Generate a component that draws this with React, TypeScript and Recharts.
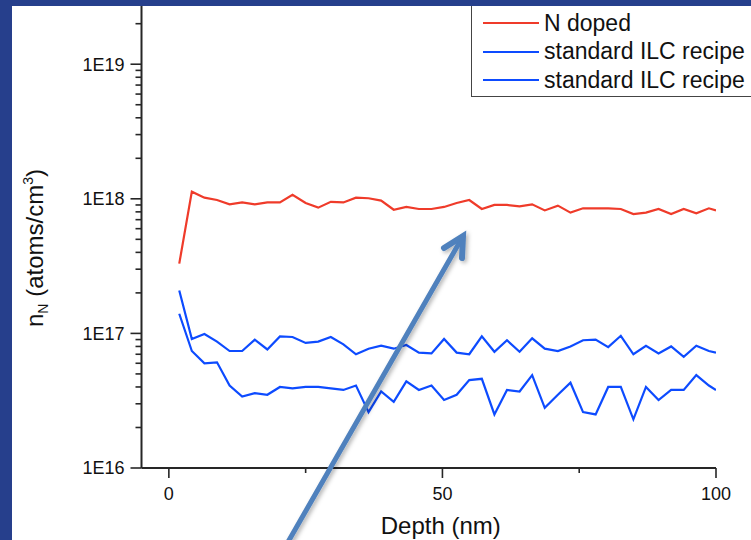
import React from 'react';
import { Legend, Line, LineChart, XAxis, YAxis } from 'recharts';

// SIMS depth profile, nitrogen concentration vs depth
const depthNm = [
  1.9, 4.2, 6.5, 8.8, 11.1, 13.4, 15.7, 18.0, 20.3, 22.6, 25.0, 27.3, 29.6, 31.9, 34.2, 36.5, 38.8, 41.1, 43.4, 45.7, 48.0, 50.3,
  52.6, 54.9, 57.2, 59.5, 61.8, 64.1, 66.4, 68.7, 71.1, 73.4, 75.7, 78.0, 80.3, 82.6, 84.9, 87.2, 89.5, 91.8, 94.1, 96.4, 98.7, 100,
];

const nDoped = [
  3.3e17, 1.13e18, 1.02e18, 9.8e17, 9.1e17, 9.4e17, 9.1e17, 9.4e17, 9.4e17, 1.07e18, 9.3e17, 8.6e17, 9.5e17, 9.4e17, 1.02e18,
  1.01e18, 9.7e17, 8.3e17, 8.7e17, 8.4e17, 8.4e17, 8.7e17, 9.3e17, 9.8e17, 8.4e17, 9.0e17, 9.0e17, 8.8e17, 9.1e17, 8.2e17,
  8.9e17, 7.9e17, 8.5e17, 8.5e17, 8.5e17, 8.4e17, 7.7e17, 7.9e17, 8.4e17, 7.7e17, 8.4e17, 7.8e17, 8.5e17, 8.2e17,
];

const ilcRunA = [
  2.08e17, 9.1e16, 9.9e16, 8.7e16, 7.4e16, 7.4e16, 9.0e16, 7.6e16, 9.5e16, 9.4e16, 8.5e16, 8.7e16, 9.4e16, 8.3e16, 7.0e16,
  7.7e16, 8.1e16, 7.7e16, 8.2e16, 7.2e16, 7.1e16, 9.1e16, 7.2e16, 7.0e16, 9.5e16, 7.3e16, 8.9e16, 7.3e16, 9.2e16, 7.7e16,
  7.4e16, 8.0e16, 8.9e16, 9.0e16, 7.9e16, 9.6e16, 7.0e16, 8.1e16, 7.1e16, 8.0e16, 6.7e16, 8.1e16, 7.4e16, 7.2e16,
];

const ilcRunB = [
  1.4e17, 7.4e16, 6.0e16, 6.1e16, 4.1e16, 3.4e16, 3.6e16, 3.5e16, 4.0e16, 3.9e16, 4.0e16, 4.0e16, 3.9e16, 3.8e16, 4.1e16,
  2.6e16, 3.7e16, 3.1e16, 4.4e16, 3.8e16, 4.1e16, 3.2e16, 3.5e16, 4.5e16, 4.6e16, 2.5e16, 3.8e16, 3.7e16, 4.9e16, 2.8e16,
  3.5e16, 4.3e16, 2.6e16, 2.5e16, 4.0e16, 4.0e16, 2.3e16, 4.0e16, 3.2e16, 3.8e16, 3.8e16, 4.9e16, 4.1e16, 3.8e16,
];

const seriesNames = ['N doped', 'standard ILC recipe', 'standard ILC recipe'];

const xTicks = [0, 25, 50, 75, 100];
const xLabelled = [0, 50, 100];
const yDecades = [1e16, 1e17, 1e18, 1e19];
const yMinorSteps = [2, 3, 4, 5, 6, 7, 8, 9];
const yTicks = yDecades.flatMap((d) => [d, ...yMinorSteps.map((m) => m * d)]).filter((v) => v <= 2e19);

const rows = depthNm.map((depth, i) => ({ depth, nDoped: nDoped[i], ilcRunA: ilcRunA[i], ilcRunB: ilcRunB[i] }));

const FONT = '"Liberation Sans", Arial, Helvetica, sans-serif';
const RED = '#ef3b2a';
const BLUE = '#0d4bff';
const AXIS = '#262626';
const FRAME = '#263f8c';

const XTick = ({ x, y, payload }: any) => {
  const v = payload.value;
  const labelled = xLabelled.includes(v);
  return (
    <g>
      <line x1={x} x2={x} y1={y} y2={y + (labelled ? 10 : 5)} stroke={AXIS} strokeWidth={1.6} />
      {labelled && (
        <text x={x} y={y + 32} textAnchor="middle" fontSize={18} fontFamily={FONT} fill="#111">
          {v}
        </text>
      )}
    </g>
  );
};

const YTick = ({ x, y, payload }: any) => {
  const v = payload.value;
  const exp = Math.round(Math.log10(v));
  const major = Math.abs(Math.log10(v) - exp) < 1e-6;
  return (
    <g>
      <line x1={x - (major ? 11 : 6)} x2={x} y1={y} y2={y} stroke={AXIS} strokeWidth={1.6} />
      {major && (
        <text x={x - 17} y={y} dy="0.355em" textAnchor="end" fontSize={18} fontFamily={FONT} fill="#111">
          {`1E${exp}`}
        </text>
      )}
    </g>
  );
};

const XTitle = ({ viewBox }: any) => (
  <text x={viewBox.x + viewBox.width / 2 + 12} y={534} textAnchor="middle" fontSize={24} fontFamily={FONT} fill="#111">
    Depth (nm)
  </text>
);

const YTitle = ({ viewBox }: any) => {
  const cy = viewBox.y + viewBox.height / 2 + 14;
  return (
    <text transform={`translate(34, ${cy}) rotate(-90)`} textAnchor="middle" dy="0.355em" fontSize={24} fontFamily={FONT} fill="#111">
      n
      <tspan fontSize={14} dy={5}>N</tspan>
      <tspan dy={-5}> (atoms/cm</tspan>
      <tspan fontSize={14} dy={-10}>3</tspan>
      <tspan dy={10}>)</tspan>
    </text>
  );
};

const LegendBox = ({ payload }: any) => (
  <div style={{ border: '1px solid #444', background: '#fff', padding: '3px 0 1px 0', width: 320, fontFamily: FONT }}>
    {(payload || []).map((entry: any, i: number) => (
      <div key={i} style={{ display: 'flex', alignItems: 'center', height: 28.5, fontSize: 23, color: '#111', whiteSpace: 'nowrap' }}>
        <span style={{ display: 'inline-block', width: 56, height: 0, borderTop: `2px solid ${entry.color}`, margin: '0 5px 0 11px' }} />
        <span>{entry.value}</span>
      </div>
    ))}
  </div>
);

export default function App() {
  return (
    <div style={{ position: 'relative', width: 751, height: 540, overflow: 'hidden', background: '#fff', fontFamily: FONT }}>
      <style>{'body{margin:0}'}</style>
      <LineChart width={751} height={540} data={rows} margin={{ top: 0, right: 35, bottom: 0, left: 0 }}>
        <XAxis
          dataKey="depth"
          type="number"
          domain={[-5, 100]}
          ticks={xTicks}
          interval={0}
          allowDataOverflow
          height={72}
          tickSize={0}
          tickMargin={0}
          tickLine={false}
          axisLine={{ stroke: AXIS, strokeWidth: 2 }}
          tick={(p: any) => <XTick {...p} />}
          label={{ content: (p: any) => <XTitle {...p} /> }}
        />
        <YAxis
          type="number"
          scale="log"
          domain={[1e16, 3e19]}
          ticks={yTicks}
          interval={0}
          allowDataOverflow
          width={141.5}
          tickSize={0}
          tickMargin={0}
          tickLine={false}
          axisLine={{ stroke: AXIS, strokeWidth: 2 }}
          tick={(p: any) => <YTick {...p} />}
          label={{ content: (p: any) => <YTitle {...p} /> }}
        />
        <Legend
          layout="vertical"
          align="center"
          verticalAlign="middle"
          wrapperStyle={{ left: 471, top: 5, width: 320 }}
          content={(p: any) => <LegendBox {...p} />}
        />
        <Line dataKey="nDoped" name={seriesNames[0]} stroke={RED} strokeWidth={2.2} dot={false} isAnimationActive={false} />
        <Line dataKey="ilcRunA" name={seriesNames[1]} stroke={BLUE} strokeWidth={2.2} dot={false} isAnimationActive={false} />
        <Line dataKey="ilcRunB" name={seriesNames[2]} stroke={BLUE} strokeWidth={2.2} dot={false} isAnimationActive={false} />
      </LineChart>

      {/* annotation arrow */}
      <svg width={751} height={540} style={{ position: 'absolute', left: 0, top: 0, pointerEvents: 'none' }}>
        <defs>
          <filter id="arrowShadow" x="-20%" y="-20%" width="140%" height="140%">
            <feDropShadow dx="2" dy="2" stdDeviation="2" floodColor="#000" floodOpacity="0.3" />
          </filter>
        </defs>
        <g filter="url(#arrowShadow)" stroke="#4f81bd" fill="none" strokeLinecap="round">
          <line x1={284} y1={549} x2={462} y2={238} strokeWidth={5} />
          <polyline points="444,248 463,236 462,258" strokeWidth={6} />
        </g>
      </svg>

      {/* slide frame */}
      <div style={{ position: 'absolute', left: 0, top: 0, width: 751, height: 6, background: FRAME }} />
      <div style={{ position: 'absolute', left: 0, top: 0, width: 12, height: 540, background: FRAME }} />
    </div>
  );
}
